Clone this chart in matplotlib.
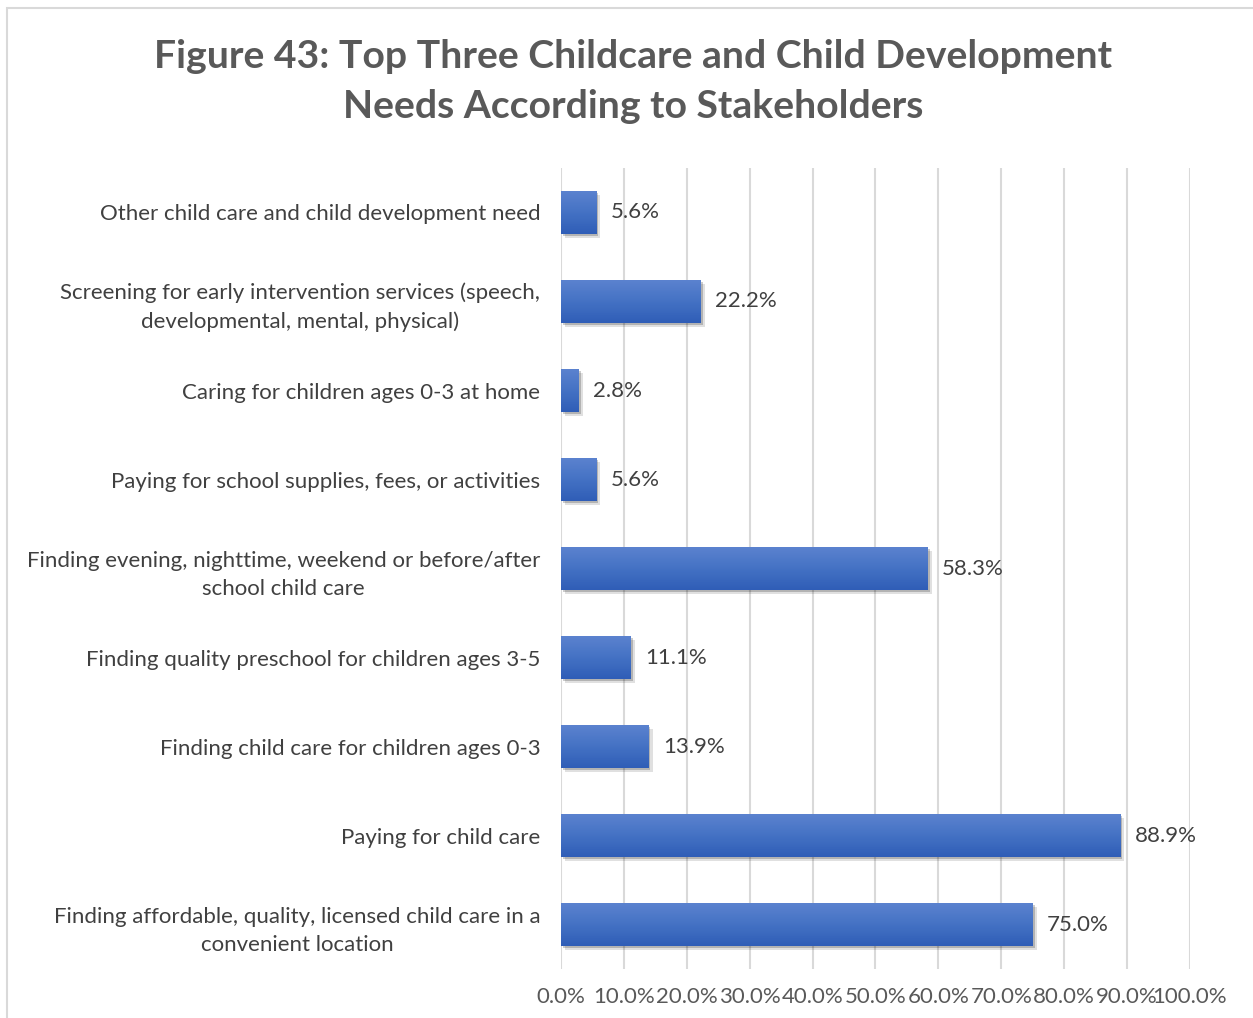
import numpy as np
import matplotlib.pyplot as plt
import matplotlib.patches as mpatches
import matplotlib.patheffects as pe
from matplotlib.colors import LinearSegmentedColormap

# categories listed bottom to top, as in the chart
categories = [
    "Finding affordable, quality, licensed child care in a\nconvenient location",
    "Paying for child care",
    "Finding child care for children ages 0-3",
    "Finding quality preschool for children ages 3-5",
    "Finding evening, nighttime, weekend or before/after\nschool child care",
    "Paying for school supplies, fees, or activities",
    "Caring for children ages 0-3 at home",
    "Screening for early intervention services (speech,\ndevelopmental, mental, physical)",
    "Other child care and child development need",
]
values = [75.0, 88.9, 13.9, 11.1, 58.3, 5.6, 2.8, 22.2, 5.6]
xticks = [0, 10, 20, 30, 40, 50, 60, 70, 80, 90, 100]

plt.rcParams['font.family'] = ['Lato', 'DejaVu Sans']

fig = plt.figure(figsize=(12.53, 10.18), dpi=100)
ax = fig.add_axes([0.4477, 0.048, 0.502, 0.787])

# outer border of the chart
fig.patches.append(mpatches.Rectangle((0.0056, -0.01), 1.0, 1.0022, transform=fig.transFigure,
                                      fill=False, edgecolor='#D9D9D9', linewidth=1.5))

y = np.arange(len(categories))
bars = ax.barh(y, values, height=0.48, color='#4472C4', zorder=3,
               path_effects=[pe.SimplePatchShadow(offset=(3, -3), shadow_rgbFace='black', alpha=0.12),
                             pe.SimplePatchShadow(offset=(1.5, -1.5), shadow_rgbFace='black', alpha=0.2),
                             pe.Normal()])

cmap = LinearSegmentedColormap.from_list('bar', ['#5B82CF', '#4472C4', '#2F5DB7'])
grad = np.linspace(0, 1, 64).reshape(-1, 1)
for b in bars:
    x0, y0 = b.get_x(), b.get_y()
    im = ax.imshow(grad, cmap=cmap, aspect='auto', zorder=4, origin='upper',
                   extent=[x0, x0 + b.get_width(), y0, y0 + b.get_height()])
    im.set_clip_path(b)

for yi, v in zip(y, values):
    ax.text(v + 2.3, yi, f"{v:.1f}%", va='center', ha='left', fontsize=16, color='#404040', zorder=5)

ax.set_xlim(0, 100)
ax.set_ylim(-0.5, len(categories) - 0.5)
ax.set_xticks(xticks)
ax.set_xticklabels([f"{t:.1f}%" for t in xticks], fontsize=16, color='#595959')
ax.set_yticks(y)
ax.set_yticklabels(categories, fontsize=16, color='#404040', linespacing=1.5)
for lab in ax.get_yticklabels():
    lab.set_multialignment('center')
ax.tick_params(axis='both', length=0)
ax.tick_params(axis='x', pad=13)
ax.tick_params(axis='y', pad=15)
ax.grid(axis='x', color='#D9D9D9', linewidth=1.5, zorder=0)
for s in ax.spines.values():
    s.set_visible(False)
ax.set_axisbelow(True)

fig.text(0.505, 0.92, "Figure 43: Top Three Childcare and Child Development\nNeeds According to Stakeholders",
         ha='center', va='center', fontsize=28.2, fontweight='bold', color='#595959', linespacing=1.5)

fig.savefig('out.png', dpi=100, facecolor='white')
